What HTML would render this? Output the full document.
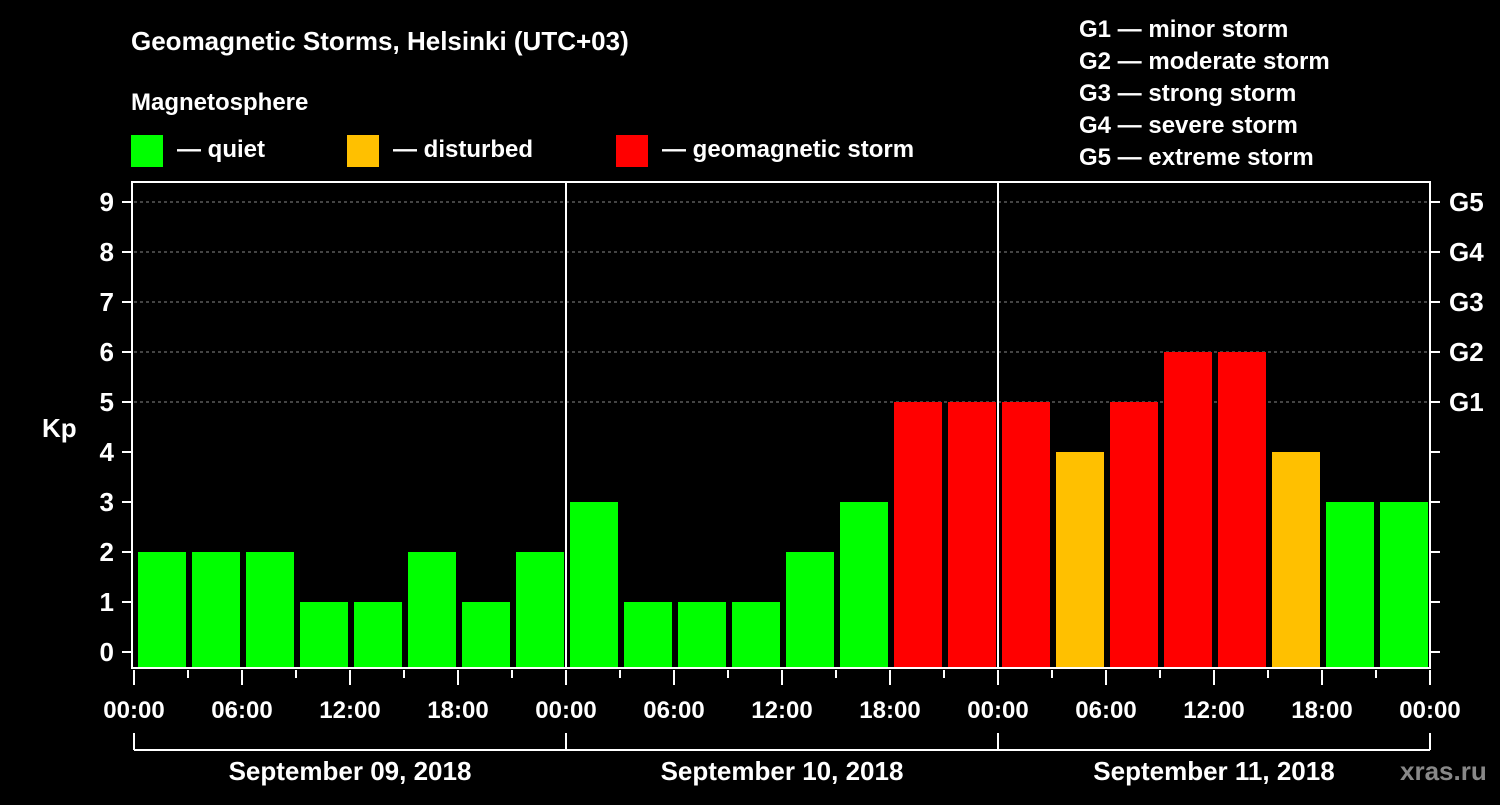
<!DOCTYPE html>
<html><head><meta charset="utf-8"><style>
body{margin:0;background:#000;width:1500px;height:800px;overflow:hidden}
svg text{font-family:"Liberation Sans",Arial,sans-serif;font-weight:bold;fill:#fff}
</style></head><body>
<svg id="c" width="1500" height="800" xmlns="http://www.w3.org/2000/svg">
<rect width="1500" height="800" fill="#000"/>
<text x="131" y="50" font-size="26">Geomagnetic Storms, Helsinki (UTC+03)</text>
<text x="131" y="110" font-size="24">Magnetosphere</text>
<g><rect x="131" y="135" width="32" height="32" fill="#00ff00"/><text x="177" y="157" font-size="24">— quiet</text></g>
<g><rect x="347" y="135" width="32" height="32" fill="#ffc000"/><text x="393" y="157" font-size="24">— disturbed</text></g>
<g><rect x="616" y="135" width="32" height="32" fill="#ff0000"/><text x="662" y="157" font-size="24">— geomagnetic storm</text></g>
<g font-size="24">
<text x="1079" y="37">G1 — minor storm</text>
<text x="1079" y="69">G2 — moderate storm</text>
<text x="1079" y="101">G3 — strong storm</text>
<text x="1079" y="133">G4 — severe storm</text>
<text x="1079" y="165">G5 — extreme storm</text>
</g>
<text x="42" y="437" font-size="26">Kp</text>
<text x="1400" y="780" font-size="26" fill="#888" style="fill:#888">xras.ru</text>
<g id="plot"></g>
</svg>
<script>
const kpValues=[2,2,2,1,1,2,1,2, 3,1,1,1,2,3,5,5, 5,4,5,6,6,4,3,3];
const dayLabels=["September 09, 2018","September 10, 2018","September 11, 2018"];
const hourLabels=["00:00","06:00","12:00","18:00"];
const gLabels=["G1","G2","G3","G4","G5"];
const yTicks=[0,1,2,3,4,5,6,7,8,9];
const NS="http://www.w3.org/2000/svg";
const X0=134,DAYW=432,Y0=652,UNIT=50,BOT=668,TOP=182,RIGHT=1430;
const xs=h=>X0+h/72*DAYW*3/3*1; // h in hours over 3 days -> 72h span
function xh(h){return X0+h*(DAYW/24);}
function y(v){return Y0-v*UNIT;}
const g=document.getElementById('plot');
function el(t,a,name,p){const e=document.createElementNS(NS,t);for(const k in a)e.setAttribute(k,a[k]);


(p||g).appendChild(e);return e;}
// grid
yTicks.forEach(v=>{if(v>=5)el('line',{x1:X0,x2:RIGHT,y1:y(v),y2:y(v),stroke:'#888','stroke-dasharray':'3,3','stroke-width':1},'grid-line');});
// bars
kpValues.forEach((v,i)=>{const c=v>=5?'#ff0000':(v>=4?'#ffc000':'#00ff00');
el('rect',{x:xh(i*3)+4,y:y(v),width:48,height:BOT-y(v),fill:c},'bar-'+i);});
// frame
el('rect',{x:X0-2,y:TOP,width:RIGHT-X0+2,height:BOT-TOP,fill:'none',stroke:'#fff','stroke-width':2},'plot-frame');
[1,2].forEach(d=>el('line',{x1:xh(d*24),x2:xh(d*24),y1:TOP,y2:BOT,stroke:'#fff','stroke-width':2},'day-divider'));
// y ticks
yTicks.forEach(v=>{el('line',{x1:122,x2:132,y1:y(v),y2:y(v),stroke:'#fff','stroke-width':2},'y-tick');
el('line',{x1:RIGHT,x2:RIGHT+10,y1:y(v),y2:y(v),stroke:'#fff','stroke-width':2},'y-tick-right');
const t=el('text',{x:114,y:y(v)+9,'font-size':26,'text-anchor':'end'},'y-tick-label');t.textContent=v;
if(v>=5){const r=el('text',{x:1449,y:y(v)+9,'font-size':26},'g-level-label');r.textContent=gLabels[v-5];}});
// x ticks
for(let i=0;i<=24;i++){const x=xh(i*3);const major=i%2==0;
el('line',{x1:x,x2:x,y1:BOT+2,y2:BOT+(major?17:10),stroke:'#fff','stroke-width':2},'x-tick');
if(major){const t=el('text',{x:x,y:718,'font-size':24,'text-anchor':'middle'},'x-tick-label');t.textContent=i==24?"00:00":hourLabels[(i/2)%4];}}
// day brackets
dayLabels.forEach((d,i)=>{const a=xh(i*24),b=xh((i+1)*24);
el('line',{x1:a,x2:b,y1:750,y2:750,stroke:'#fff','stroke-width':2},'day-bracket');
el('line',{x1:a,x2:a,y1:733,y2:750,stroke:'#fff','stroke-width':2},'day-bracket-tick');
if(i==2)el('line',{x1:b,x2:b,y1:733,y2:750,stroke:'#fff','stroke-width':2},'day-bracket-tick');
const t=el('text',{x:(a+b)/2,y:780,'font-size':26,'text-anchor':'middle'},'day-label');t.textContent=d;});
</script>
</body></html>
